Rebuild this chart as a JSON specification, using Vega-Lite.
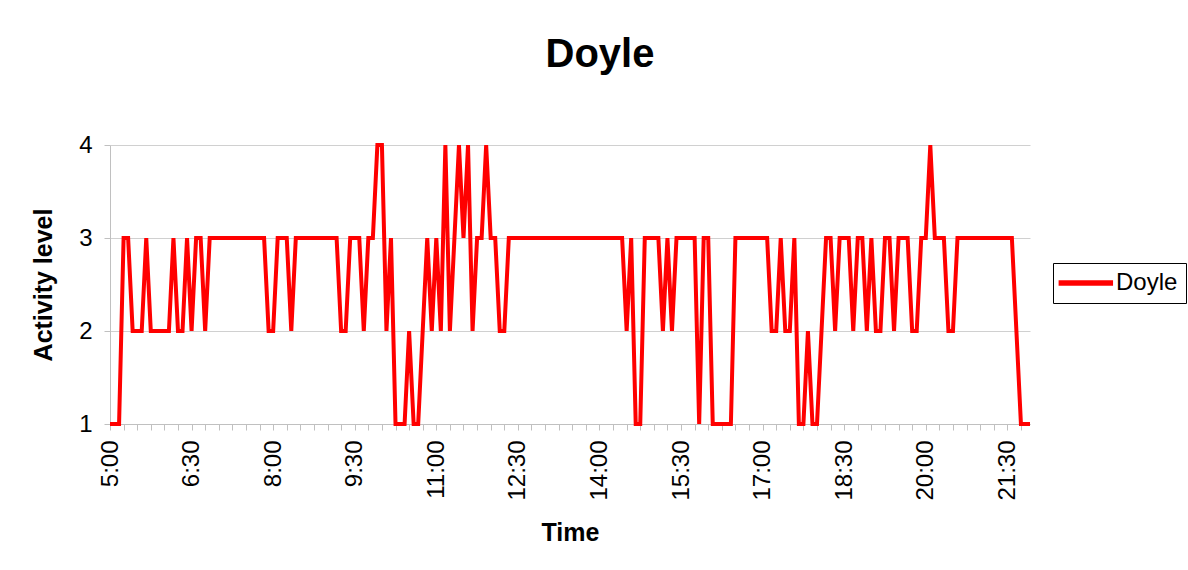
{
  "$schema": "https://vega.github.io/schema/vega-lite/v6.json",
  "autosize": "none",
  "width": 920,
  "height": 279,
  "padding": {"left": 110, "top": 145, "right": 158, "bottom": 146},
  "background": "white",
  "config": {"font": "Liberation Sans", "view": {"stroke": null}},
  "title": {"text": "Doyle", "fontSize": 40, "fontWeight": "bold", "color": "black", "anchor": "middle", "frame": "group", "dx": 30, "baseline": "alphabetic", "offset": 26},
  "datasets": {
    "doyle": [
      {"time": "5:00", "level": 1}, {"time": "5:05", "level": 1}, {"time": "5:10", "level": 1}, {"time": "5:15", "level": 3}, {"time": "5:20", "level": 3}, {"time": "5:25", "level": 2}, {"time": "5:30", "level": 2}, {"time": "5:35", "level": 2}, {"time": "5:40", "level": 3}, {"time": "5:45", "level": 2}, {"time": "5:50", "level": 2}, {"time": "5:55", "level": 2},
      {"time": "6:00", "level": 2}, {"time": "6:05", "level": 2}, {"time": "6:10", "level": 3}, {"time": "6:15", "level": 2}, {"time": "6:20", "level": 2}, {"time": "6:25", "level": 3}, {"time": "6:30", "level": 2}, {"time": "6:35", "level": 3}, {"time": "6:40", "level": 3}, {"time": "6:45", "level": 2}, {"time": "6:50", "level": 3}, {"time": "6:55", "level": 3},
      {"time": "7:00", "level": 3}, {"time": "7:05", "level": 3}, {"time": "7:10", "level": 3}, {"time": "7:15", "level": 3}, {"time": "7:20", "level": 3}, {"time": "7:25", "level": 3}, {"time": "7:30", "level": 3}, {"time": "7:35", "level": 3}, {"time": "7:40", "level": 3}, {"time": "7:45", "level": 3}, {"time": "7:50", "level": 3}, {"time": "7:55", "level": 2},
      {"time": "8:00", "level": 2}, {"time": "8:05", "level": 3}, {"time": "8:10", "level": 3}, {"time": "8:15", "level": 3}, {"time": "8:20", "level": 2}, {"time": "8:25", "level": 3}, {"time": "8:30", "level": 3}, {"time": "8:35", "level": 3}, {"time": "8:40", "level": 3}, {"time": "8:45", "level": 3}, {"time": "8:50", "level": 3}, {"time": "8:55", "level": 3},
      {"time": "9:00", "level": 3}, {"time": "9:05", "level": 3}, {"time": "9:10", "level": 3}, {"time": "9:15", "level": 2}, {"time": "9:20", "level": 2}, {"time": "9:25", "level": 3}, {"time": "9:30", "level": 3}, {"time": "9:35", "level": 3}, {"time": "9:40", "level": 2}, {"time": "9:45", "level": 3}, {"time": "9:50", "level": 3}, {"time": "9:55", "level": 4},
      {"time": "10:00", "level": 4}, {"time": "10:05", "level": 2}, {"time": "10:10", "level": 3}, {"time": "10:15", "level": 1}, {"time": "10:20", "level": 1}, {"time": "10:25", "level": 1}, {"time": "10:30", "level": 2}, {"time": "10:35", "level": 1}, {"time": "10:40", "level": 1}, {"time": "10:45", "level": 2}, {"time": "10:50", "level": 3}, {"time": "10:55", "level": 2},
      {"time": "11:00", "level": 3}, {"time": "11:05", "level": 2}, {"time": "11:10", "level": 4}, {"time": "11:15", "level": 2}, {"time": "11:20", "level": 3}, {"time": "11:25", "level": 4}, {"time": "11:30", "level": 3}, {"time": "11:35", "level": 4}, {"time": "11:40", "level": 2}, {"time": "11:45", "level": 3}, {"time": "11:50", "level": 3}, {"time": "11:55", "level": 4},
      {"time": "12:00", "level": 3}, {"time": "12:05", "level": 3}, {"time": "12:10", "level": 2}, {"time": "12:15", "level": 2}, {"time": "12:20", "level": 3}, {"time": "12:25", "level": 3}, {"time": "12:30", "level": 3}, {"time": "12:35", "level": 3}, {"time": "12:40", "level": 3}, {"time": "12:45", "level": 3}, {"time": "12:50", "level": 3}, {"time": "12:55", "level": 3},
      {"time": "13:00", "level": 3}, {"time": "13:05", "level": 3}, {"time": "13:10", "level": 3}, {"time": "13:15", "level": 3}, {"time": "13:20", "level": 3}, {"time": "13:25", "level": 3}, {"time": "13:30", "level": 3}, {"time": "13:35", "level": 3}, {"time": "13:40", "level": 3}, {"time": "13:45", "level": 3}, {"time": "13:50", "level": 3}, {"time": "13:55", "level": 3},
      {"time": "14:00", "level": 3}, {"time": "14:05", "level": 3}, {"time": "14:10", "level": 3}, {"time": "14:15", "level": 3}, {"time": "14:20", "level": 3}, {"time": "14:25", "level": 3}, {"time": "14:30", "level": 2}, {"time": "14:35", "level": 3}, {"time": "14:40", "level": 1}, {"time": "14:45", "level": 1}, {"time": "14:50", "level": 3}, {"time": "14:55", "level": 3},
      {"time": "15:00", "level": 3}, {"time": "15:05", "level": 3}, {"time": "15:10", "level": 2}, {"time": "15:15", "level": 3}, {"time": "15:20", "level": 2}, {"time": "15:25", "level": 3}, {"time": "15:30", "level": 3}, {"time": "15:35", "level": 3}, {"time": "15:40", "level": 3}, {"time": "15:45", "level": 3}, {"time": "15:50", "level": 1}, {"time": "15:55", "level": 3},
      {"time": "16:00", "level": 3}, {"time": "16:05", "level": 1}, {"time": "16:10", "level": 1}, {"time": "16:15", "level": 1}, {"time": "16:20", "level": 1}, {"time": "16:25", "level": 1}, {"time": "16:30", "level": 3}, {"time": "16:35", "level": 3}, {"time": "16:40", "level": 3}, {"time": "16:45", "level": 3}, {"time": "16:50", "level": 3}, {"time": "16:55", "level": 3},
      {"time": "17:00", "level": 3}, {"time": "17:05", "level": 3}, {"time": "17:10", "level": 2}, {"time": "17:15", "level": 2}, {"time": "17:20", "level": 3}, {"time": "17:25", "level": 2}, {"time": "17:30", "level": 2}, {"time": "17:35", "level": 3}, {"time": "17:40", "level": 1}, {"time": "17:45", "level": 1}, {"time": "17:50", "level": 2}, {"time": "17:55", "level": 1},
      {"time": "18:00", "level": 1}, {"time": "18:05", "level": 2}, {"time": "18:10", "level": 3}, {"time": "18:15", "level": 3}, {"time": "18:20", "level": 2}, {"time": "18:25", "level": 3}, {"time": "18:30", "level": 3}, {"time": "18:35", "level": 3}, {"time": "18:40", "level": 2}, {"time": "18:45", "level": 3}, {"time": "18:50", "level": 3}, {"time": "18:55", "level": 2},
      {"time": "19:00", "level": 3}, {"time": "19:05", "level": 2}, {"time": "19:10", "level": 2}, {"time": "19:15", "level": 3}, {"time": "19:20", "level": 3}, {"time": "19:25", "level": 2}, {"time": "19:30", "level": 3}, {"time": "19:35", "level": 3}, {"time": "19:40", "level": 3}, {"time": "19:45", "level": 2}, {"time": "19:50", "level": 2}, {"time": "19:55", "level": 3},
      {"time": "20:00", "level": 3}, {"time": "20:05", "level": 4}, {"time": "20:10", "level": 3}, {"time": "20:15", "level": 3}, {"time": "20:20", "level": 3}, {"time": "20:25", "level": 2}, {"time": "20:30", "level": 2}, {"time": "20:35", "level": 3}, {"time": "20:40", "level": 3}, {"time": "20:45", "level": 3}, {"time": "20:50", "level": 3}, {"time": "20:55", "level": 3},
      {"time": "21:00", "level": 3}, {"time": "21:05", "level": 3}, {"time": "21:10", "level": 3}, {"time": "21:15", "level": 3}, {"time": "21:20", "level": 3}, {"time": "21:25", "level": 3}, {"time": "21:30", "level": 3}, {"time": "21:35", "level": 3}, {"time": "21:40", "level": 2}, {"time": "21:45", "level": 1}, {"time": "21:50", "level": 1}, {"time": "21:55", "level": 1}
    ]
  },
  "data": {"name": "doyle"},
  "mark": {"type": "line", "strokeWidth": 4, "clip": false},
  "encoding": {
    "x": {
      "field": "time", "type": "ordinal", "sort": null,
      "scale": {"type": "point", "padding": 0},
      "axis": {
        "title": "Time", "titleFontSize": 25, "titleFontWeight": "bold", "titleColor": "black", "titlePadding": 20,
        "values": ["5:00","5:15","5:30","5:45","6:00","6:15","6:30","6:45","7:00","7:15","7:30","7:45","8:00","8:15","8:30","8:45","9:00","9:15","9:30","9:45","10:00","10:15","10:30","10:45","11:00","11:15","11:30","11:45","12:00","12:15","12:30","12:45","13:00","13:15","13:30","13:45","14:00","14:15","14:30","14:45","15:00","15:15","15:30","15:45","16:00","16:15","16:30","16:45","17:00","17:15","17:30","17:45","18:00","18:15","18:30","18:45","19:00","19:15","19:30","19:45","20:00","20:15","20:30","20:45","21:00","21:15","21:30","21:45"],
        "labelExpr": "indexof(['5:00','6:30','8:00','9:30','11:00','12:30','14:00','15:30','17:00','18:30','20:00','21:30'], datum.value) >= 0 ? datum.value : ''",
        "labelAngle": -90, "labelAlign": "right", "labelBaseline": "middle",
        "labelFontSize": 24, "labelColor": "black", "labelPadding": 10, "labelOverlap": false,
        "tickSize": 6, "tickColor": "#c0c0c0", "domainColor": "#c0c0c0", "grid": false
      }
    },
    "y": {
      "field": "level", "type": "quantitative",
      "scale": {"domain": [1, 4], "nice": false, "zero": false},
      "axis": {
        "title": "Activity level", "titleFontSize": 25, "titleFontWeight": "bold", "titleColor": "black", "titlePadding": 22,
        "values": [1, 2, 3, 4], "labelFontSize": 24, "labelColor": "black", "labelPadding": 12,
        "tickSize": 6, "tickColor": "#c0c0c0", "domainColor": "#c0c0c0",
        "grid": true, "gridColor": "#d0d0d0", "gridWidth": 1
      }
    },
    "color": {
      "datum": "Doyle", "type": "nominal",
      "scale": {"range": ["#ff0000"]},
      "legend": {
        "title": null, "orient": "none", "legendX": 943, "legendY": 118,
        "strokeColor": "black", "fillColor": "white", "padding": 8,
        "symbolType": "M-1.6,0H4.45", "symbolSize": 324, "symbolStrokeWidth": 5.5,
        "labelFontSize": 24, "labelColor": "black", "labelOffset": 31
      }
    }
  }
}
